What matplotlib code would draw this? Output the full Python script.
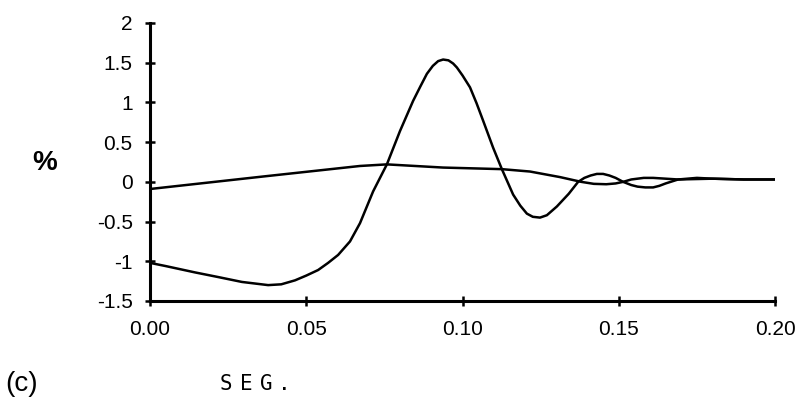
import matplotlib
matplotlib.use("Agg")
import matplotlib.pyplot as plt

# Big oscillating curve
t_big = [0.000, 0.0050, 0.0144, 0.0220, 0.0294, 0.0378, 0.0420, 0.0464, 0.0500,
         0.0538, 0.0570, 0.0602, 0.0640, 0.0672, 0.0714, 0.0758, 0.0800, 0.0842,
         0.0865, 0.0886, 0.0905, 0.0922, 0.0938, 0.0955, 0.0970, 0.0982, 0.1000,
         0.1024, 0.1045, 0.1066, 0.1098, 0.1126, 0.1162, 0.1185, 0.1206, 0.1225,
         0.1248, 0.1270, 0.1302, 0.1340, 0.1370, 0.1390, 0.1410, 0.1430, 0.1450,
         0.1470, 0.1490, 0.1514, 0.1540, 0.1560, 0.1585, 0.1610, 0.1630, 0.1650,
         0.1690, 0.1720, 0.1750, 0.1800, 0.1900, 0.2000]
v_big = [-1.02, -1.06, -1.14, -1.20, -1.26, -1.30, -1.29, -1.24, -1.18,
         -1.11, -1.02, -0.92, -0.75, -0.52, -0.12, 0.22, 0.64, 1.02,
         1.20, 1.36, 1.46, 1.52, 1.54, 1.53, 1.49, 1.44, 1.34,
         1.19, 0.99, 0.77, 0.43, 0.16, -0.16, -0.30, -0.40, -0.44,
         -0.45, -0.42, -0.31, -0.15, 0.00, 0.05, 0.08, 0.10, 0.10,
         0.08, 0.05, 0.00, -0.04, -0.06, -0.07, -0.07, -0.05, -0.02,
         0.03, 0.04, 0.05, 0.04, 0.03, 0.03]

# Flatter curve
t_flat = [0.000, 0.0368, 0.0672, 0.0758, 0.0938, 0.1126, 0.1216, 0.1312,
          0.1380, 0.1420, 0.1460, 0.1490, 0.1514, 0.1540, 0.1580, 0.1610,
          0.1650, 0.1690, 0.1800, 0.1900, 0.2000]
v_flat = [-0.09, 0.07, 0.20, 0.22, 0.18, 0.16, 0.13, 0.06,
          0.00, -0.025, -0.03, -0.02, 0.00, 0.03, 0.05, 0.05,
          0.04, 0.03, 0.04, 0.03, 0.03]

x_ticks = [0.00, 0.05, 0.10, 0.15, 0.20]
x_tick_labels = ["0.00", "0.05", "0.10", "0.15", "0.20"]
y_ticks = [-1.5, -1, -0.5, 0, 0.5, 1, 1.5, 2]
y_tick_labels = ["-1.5", "-1", "-0.5", "0", "0.5", "1", "1.5", "2"]

fig = plt.figure(figsize=(8.06, 4.09), dpi=100)
ax = fig.add_axes([150/806, 1-301/409, 625/806, (301-23)/409])

ax.plot(t_big, v_big, color="black", lw=1.8, solid_joinstyle="round")
ax.plot(t_flat, v_flat, color="black", lw=1.8, solid_joinstyle="round")

ax.set_xlim(0, 0.2)
ax.set_ylim(-1.5, 2)
for s in ["top", "right"]:
    ax.spines[s].set_visible(False)
for s in ["left", "bottom"]:
    ax.spines[s].set_linewidth(2.2)
ax.set_xticks(x_ticks)
ax.set_xticklabels(x_tick_labels, family="Liberation Sans", fontsize=15,
                   fontweight="medium")
ax.set_yticks(y_ticks)
ax.set_yticklabels(y_tick_labels, family="Liberation Sans", fontsize=15,
                   fontweight="medium")
ax.tick_params(axis="both", direction="inout", length=7, width=1.8)
ax.tick_params(axis="x", pad=10)
ax.tick_params(axis="y", pad=9)

fig.text(45/806, 1-163/409, "%", family="Liberation Sans", fontsize=20,
         fontweight="bold", ha="center", va="center")
fig.text(22/806, 1-384/409, "(c)", family="Liberation Sans", fontsize=20,
         ha="center", va="center")
for ch, px in zip("SEG.", [226, 246, 266, 284]):
    fig.text(px/806, 1-384/409, ch, family="DejaVu Sans Mono", fontsize=15,
             ha="center", va="center")

fig.savefig("out.png", dpi=100)
